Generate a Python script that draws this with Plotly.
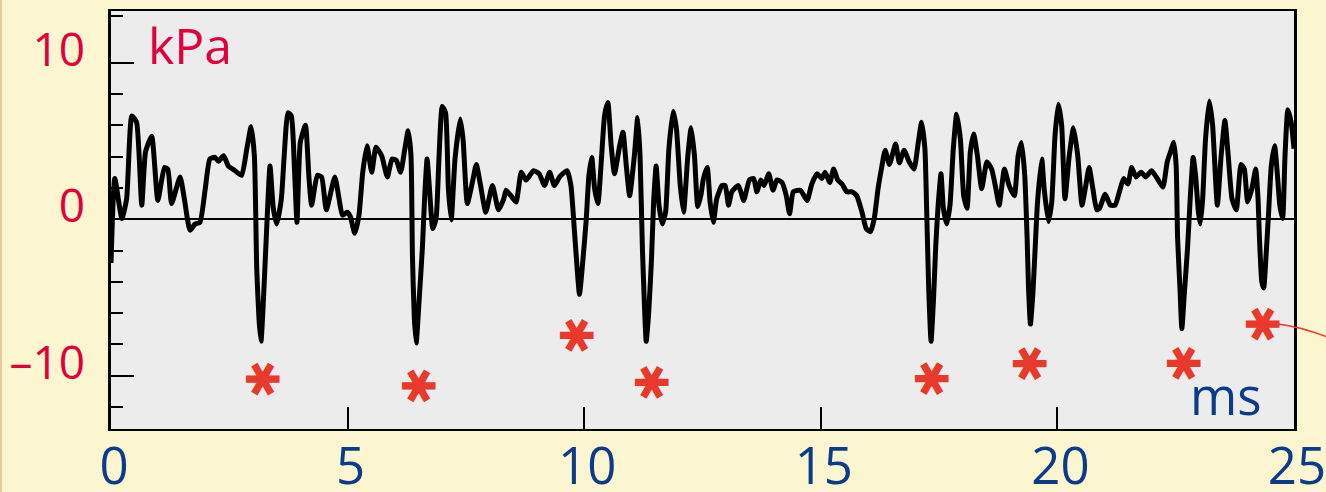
import plotly.graph_objects as go

# ---- data (ms, kPa) ----
time_ms = [0.0, 0.08, 0.23, 0.33, 0.44, 0.54, 0.65, 0.73, 0.86, 0.99, 1.13, 1.2, 1.28, 1.46, 1.55, 1.67, 1.78, 1.88,
           1.99, 2.09, 2.2, 2.27, 2.38, 2.48, 2.62, 2.76, 2.87, 2.96, 3.03, 3.08, 3.13, 3.17, 3.22, 3.29, 3.36, 3.43,
           3.5, 3.6, 3.66, 3.74, 3.81, 3.88, 3.93, 4.0, 4.11, 4.18, 4.24, 4.36, 4.45, 4.55, 4.73, 4.82, 4.89, 4.99,
           5.06, 5.15, 5.24, 5.32, 5.41, 5.51, 5.6, 5.72, 5.84, 5.94, 6.03, 6.12, 6.21, 6.28, 6.34, 6.37, 6.41, 6.45,
           6.51, 6.58, 6.63, 6.68, 6.73, 6.8, 6.87, 6.93, 7.0, 7.07, 7.13, 7.19, 7.27, 7.38, 7.44, 7.53, 7.64, 7.72,
           7.81, 7.92, 8.06, 8.19, 8.3, 8.35, 8.45, 8.56, 8.67, 8.77, 8.93, 9.05, 9.16, 9.27, 9.37, 9.48, 9.64, 9.72,
           9.79, 9.84, 9.9, 9.97, 10.04, 10.1, 10.16, 10.22, 10.29, 10.36, 10.43, 10.5, 10.57, 10.64, 10.75, 10.82,
           10.89, 10.96, 11.06, 11.13, 11.18, 11.23, 11.27, 11.31, 11.36, 11.42, 11.47, 11.52, 11.58, 11.65, 11.72,
           11.79, 11.88, 11.95, 12.03, 12.1, 12.19, 12.26, 12.33, 12.4, 12.47, 12.52, 12.6, 12.66, 12.73, 12.8,
           12.91, 12.98, 13.05, 13.12, 13.26, 13.37, 13.49, 13.58, 13.65, 13.73, 13.8, 13.9, 13.99, 14.07, 14.18,
           14.27, 14.34, 14.42, 14.57, 14.71, 14.81, 14.92, 15.02, 15.09, 15.19, 15.27, 15.36, 15.45, 15.55, 15.66,
           15.76, 15.87, 15.96, 16.05, 16.13, 16.21, 16.28, 16.36, 16.45, 16.58, 16.66, 16.76, 16.87, 16.97, 17.06,
           17.13, 17.2, 17.24, 17.28, 17.33, 17.38, 17.43, 17.48, 17.54, 17.59, 17.66, 17.73, 17.8, 17.87, 17.95,
           18.02, 18.09, 18.16, 18.23, 18.31, 18.4, 18.51, 18.61, 18.7, 18.77, 18.88, 18.98, 19.09, 19.17, 19.24,
           19.31, 19.36, 19.39, 19.43, 19.48, 19.53, 19.58, 19.67, 19.72, 19.81, 19.88, 19.95, 20.02, 20.09, 20.16,
           20.25, 20.34, 20.43, 20.52, 20.6, 20.67, 20.75, 20.83, 20.89, 21.01, 21.12, 21.22, 21.31, 21.4, 21.49,
           21.57, 21.66, 21.77, 21.87, 21.99, 22.11, 22.23, 22.32, 22.39, 22.46, 22.51, 22.54, 22.59, 22.63, 22.68,
           22.75, 22.81, 22.87, 22.92, 22.98, 23.02, 23.07, 23.13, 23.21, 23.28, 23.38, 23.46, 23.54, 23.61, 23.69,
           23.78, 23.88, 23.95, 24.02, 24.11, 24.19, 24.24, 24.27, 24.32, 24.36, 24.41, 24.46, 24.52, 24.59, 24.65,
           24.7, 24.76, 24.81, 24.87, 24.94, 25.0]
pressure_kpa = [-2.8, 2.6, 0.05, 1.3, 6.6, 6.2, 0.9, 4.3, 5.3, 1.2, 3.3, 3.2, 1.0, 2.7, 1.3, -0.7, -0.3, -0.2,
                1.9, 3.85, 3.95, 3.7, 4.05, 3.4, 3.1, 2.8, 4.5, 5.9, 4.05, -3.2, -6.5, -7.8, -5.25, -0.6, 3.4, 0.7,
                -0.3, 1.3, 4.05, 6.8, 6.6, 3.0, -0.2, 4.9, 6.0, 2.8, 0.9, 2.8, 2.7, 0.6, 2.7, 1.3, 0.25, 0.45,
                0.15, -0.9, 0.25, 3.0, 4.7, 3.0, 4.6, 4.05, 2.7, 3.85, 3.75, 3.0, 4.5, 5.65, 4.05, -2.3, -6.3, -7.9,
                -5.25, -1.85, 1.5, 3.85, 1.95, -0.6, 0.05, 3.85, 7.2, 6.8, 1.95, -0.05, 3.85, 6.4, 5.1, 1.0, 2.4, 3.5,
                2.15, 0.45, 2.15, 0.6, 1.3, 1.85, 1.5, 1.1, 3.0, 2.5, 3.1, 2.9, 2.15, 3.0, 2.15, 2.7, 3.1, 2.15,
                -0.6, -2.7, -4.8, -2.7, -0.15, 2.8, 3.95, 1.95, 1.0, 3.65, 6.6, 7.45, 4.7, 2.9, 4.7, 5.55,
                3.4, 1.5, 4.05, 6.5, 4.05, -1.85, -5.25, -7.8, -6.1, -2.7, 1.3, 3.4, 0.9, -0.3, 0.45,
                4.5, 6.9, 5.75, 2.15, 0.45, 4.05, 5.85, 4.05, 0.8, 1.6, 2.6, 3.3, 1.1, -0.2, 1.3,
                2.15, 2.15, 0.9, 1.75, 2.15, 1.2, 2.5, 2.6, 1.75, 2.5, 2.15, 2.9, 1.85, 2.5, 2.35,
                1.5, 0.35, 1.75, 1.85, 1.2, 2.25, 2.9, 2.6, 3.0, 2.35, 3.2, 2.5, 2.25, 1.75, 1.75,
                1.5, 0.45, -0.6, -0.8, 0.05, 1.95, 3.2, 4.4, 3.5, 4.8, 3.6, 4.4, 3.65, 3.2, 4.9,
                6.2, 4.5, 0.25, -4.4, -7.8, -5.25, -1.65, 0.9, 2.9, 0.7, -0.3, 0.9, 4.5, 6.7, 5.1,
                1.5, 0.7, 4.3, 5.45, 4.05, 1.95, 3.65, 3.2, 1.95, 0.9, 3.2, 2.15, 1.5, 4.05, 4.9,
                2.8, -1.2, -4.4, -6.7, -4.85, -1.85, 1.1, 3.85, 1.95, -0.15, 1.1, 5.35, 7.35, 6.0, 1.3,
                4.05, 5.85, 4.05, 0.9, 2.15, 3.3, 1.95, 0.6, 0.7, 1.6, 0.9, 0.9, 1.75, 2.6, 2.25,
                3.3, 2.7, 3.0, 2.7, 3.1, 2.6, 2.05, 3.65, 4.3, 4.9, 3.4, -1.2, -4.4, -7.0, -4.85,
                -1.85, 1.5, 3.95, 2.8, 0.45, -0.3, 1.3, 5.1, 7.55, 6.0, 0.9, 4.05, 6.3, 4.05, 1.3,
                0.6, 3.5, 3.2, 1.1, 1.95, 3.2, 1.3, -1.2, -4.0, -4.4, -2.3, 0.25, 3.4, 4.7, 2.8,
                0.9, 0.05, 4.05, 7.0, 6.2, 4.5]

star_ms = [3.19, 6.48, 9.83, 11.41, 17.33, 19.4, 22.64, 24.31]
star_kpa = [-10.0, -10.4, -7.15, -10.2, -9.9, -8.95, -8.95, -6.45]

x_ticks = [0, 5, 10, 15, 20, 25]
x_tick_text = ["0", "5", "10", "15", "20", "25"]
y_ticks = [-10, 0, 10]
y_tick_text = ["\u201310", "0", "10"]
y_minor_ticks = [-12, -8, -6, -4, -2, 2, 4, 6, 8, 13]

RED = "#e2003c"
BLUE = "#0b3c8c"
STAR = "#e8392a"
FONT = "Open Sans"

fig = go.Figure()
fig.add_trace(go.Scatter(x=time_ms, y=pressure_kpa, mode="lines",
                         line=dict(color="black", width=5, shape="spline", smoothing=0.5),
                         hoverinfo="skip"))

star_annotations = [
    dict(text="\u2731", x=sx, y=sy, xref="x", yref="y", xanchor="center", yanchor="middle",
         showarrow=False, textangle=90, yshift=-4,
         font=dict(family="DejaVu Sans", size=46, color=STAR))
    for sx, sy in zip(star_ms, star_kpa)
]

fig.update_layout(
    width=1326, height=492,
    margin=dict(l=111, r=32, t=11, b=63, autoexpand=False),
    paper_bgcolor="#fbf6cf",
    plot_bgcolor="#ececec",
    showlegend=False,
    font=dict(family=FONT),
    xaxis=dict(range=[0, 25], tickmode="array", tickvals=x_ticks, ticktext=x_tick_text,
               ticks="inside", ticklen=22, tickwidth=2, tickcolor="black",
               showline=True, linecolor="black", linewidth=2, mirror=True,
               showgrid=False, zeroline=False, automargin=False,
               ticklabeloverflow="allow",
               tickfont=dict(family=FONT, size=51, color=BLUE), ticklabelstandoff=-8,
               ticklabelshift=3),
    yaxis=dict(range=[-13.4, 13.3], tickmode="array", tickvals=y_ticks, ticktext=y_tick_text,
               ticks="inside", ticklen=23, tickwidth=2, tickcolor="black",
               minor=dict(tickvals=y_minor_ticks, ticks="inside", ticklen=12, tickwidth=2,
                          tickcolor="black", showgrid=False),
               showline=True, linecolor="black", linewidth=2.5, mirror=True,
               showgrid=False, zeroline=True, zerolinecolor="black", zerolinewidth=2,
               automargin=False, ticklabeloverflow="allow",
               tickfont=dict(family=FONT, size=46, color=RED), ticklabelstandoff=14,
               ticklabelshift=-13),
    annotations=[
        dict(text="kPa", x=0.74, y=11.1, xref="x", yref="y", xanchor="left", yanchor="middle",
             showarrow=False, font=dict(family=FONT, size=50, color=RED)),
        dict(text="ms", x=22.75, y=-11.2, xref="x", yref="y", xanchor="left", yanchor="middle",
             showarrow=False, font=dict(family=FONT, size=51, color=BLUE)),
    ] + star_annotations,
    shapes=[
        dict(type="path", xref="paper", yref="paper",
             path="M 0.9865 0.251 Q 1.005 0.245 1.03 0.218",
             line=dict(color=STAR, width=1.5)),
        dict(type="line", xref="paper", yref="paper", x0=-0.0932, x1=-0.0932, y0=-0.2, y1=1.1,
             line=dict(color="#e3c596", width=2)),
    ],
)

fig.write_html("out.html", config={"displayModeBar": False},
               post_script="document.body.style.margin='0';document.body.style.overflow='hidden';")
